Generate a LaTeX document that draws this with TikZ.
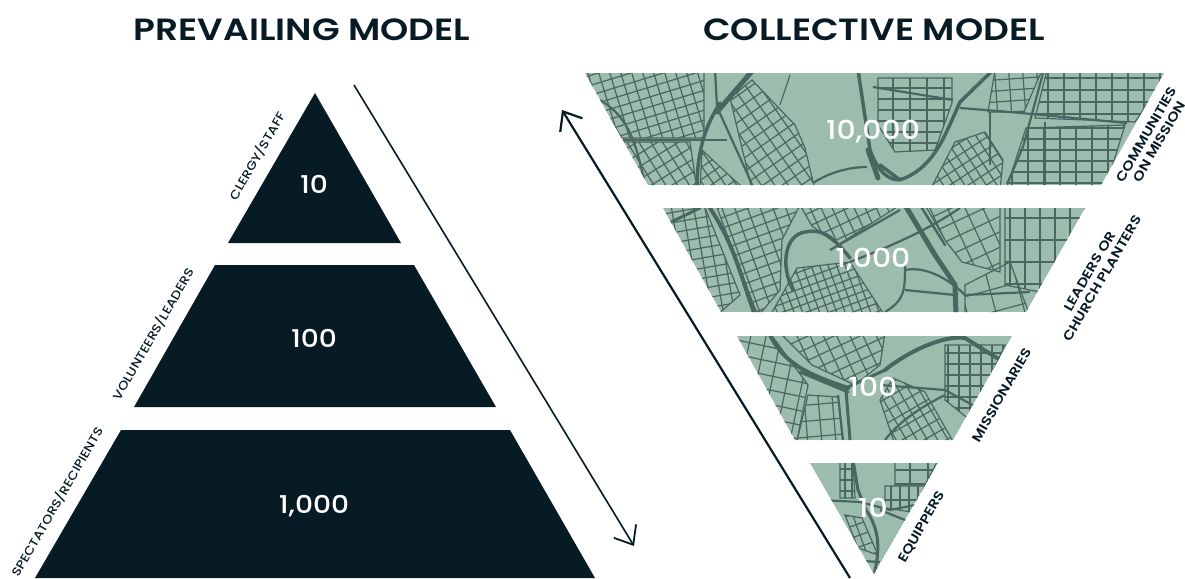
\documentclass[tikz,border=0pt]{standalone}
\usepackage{fontspec}
\setmainfont{Poppins}
\newfontfamily\wmed[FakeStretch=1.15]{Poppins Medium}
\newfontfamily\wbold[FakeStretch=1.17]{Poppins SemiBold}
\usetikzlibrary{arrows.meta}
\definecolor{ink}{HTML}{071B25}
\definecolor{mapg}{HTML}{9CBCAD}
\definecolor{road}{HTML}{4A6661}
% GP: neighbourhood polygon, grid origin, angle, spacing 1, spacing 2
\newcommand{\GP}[5]{%
  \begin{scope}
    \clip #1 -- cycle;
    \begin{scope}[shift={(#2)},rotate=#3]
      \foreach \k in {-14,...,14}{%
        \draw[street] ({\k*#4},-220) -- ({\k*#4},220);
        \draw[street] (-220,{\k*#5}) -- (220,{\k*#5});
      }
    \end{scope}
  \end{scope}
  \draw[street] #1 -- cycle;
}
\tikzset{
  street/.style={draw=road,line width=1.2pt},
  artery/.style={draw=road,line width=2.2pt},
  highway/.style={draw=road,line width=5pt,line cap=round},
  tierlabel/.style={text=ink,font=\wmed\fontsize{12}{13}\selectfont,rotate=60,align=center,inner sep=0pt},
  maplabel/.style={text=ink,font=\wbold\fontsize{13}{14.5}\selectfont,rotate=60,align=center,inner sep=0pt},
  title/.style={text=ink,font=\wbold\fontsize{30.7}{33}\selectfont,inner sep=0pt},
  count/.style={text=white,font=\wmed\fontsize{24.5}{28}\selectfont,inner sep=0pt},
  mapcount/.style={text=white,font=\wmed\fontsize{26}{32}\selectfont,inner sep=0pt},
  arrowright/.style={draw=ink,line width=1.6pt,-{Straight Barb[length=16pt,width=26pt,line width=1.8pt]}},
  arrowleft/.style={draw=ink,line width=2.2pt,-{Straight Barb[length=16pt,width=26pt,line width=2.2pt]}},
}
\begin{document}
\begin{tikzpicture}[x=1pt,y=-1pt]
\useasboundingbox (0,0) rectangle (1185,578);
% left pyramid
\fill[ink] (315,93) -- (401,243) -- (228,243) -- cycle;
\fill[ink] (215,265) -- (414,265) -- (496,407) -- (134,407) -- cycle;
\fill[ink] (121,430) -- (510,430) -- (595,578) -- (35,578) -- cycle;
\node[title] (t1) at (302,30) {PREVAILING MODEL};
\node[title] (t2) at (874,30) {COLLECTIVE MODEL};
\node[count] (a1) at (314,184) {10};
\node[count] (a2) at (314,338) {100};
\node[count] (a3) at (314,506) {1,000};
\node[tierlabel] (l1) at (257,156) {CLERGY/STAFF};
\node[tierlabel] (l2) at (153,334) {VOLUNTEERS/LEADERS};
\node[tierlabel] (l3) at (57,502) {SPECTATORS/RECIPIENTS};
\coordinate (ra) at (354,85);
\coordinate (rb) at (634,546);
\draw[arrowright] (ra) -- (rb);
% tier 1
\begin{scope}
\clip (585,73) -- (1164,73) -- (1101,185) -- (648,185) -- cycle;
\fill[mapg] (585,73) rectangle (1164,185);
\GP{(580,70) -- (704,70) -- (704,138) -- (622,138)}{640,100}{17}{10.5}{9.5}
\GP{(622,142) -- (690,142) -- (697,190) -- (640,190)}{650,160}{32}{10}{11}
\GP{(702,150) -- (745,190) -- (700,190)}{715,170}{35}{9}{10}
\GP{(730,98) -- (752,80) -- (795,125) -- (805,148) -- (815,190) -- (752,190)}{770,140}{35}{11}{11}
\GP{(878,78) -- (952,78) -- (952,103) -- (935,150) -- (895,152) -- (878,125)}{910,110}{0}{17}{11}
\GP{(955,142) -- (985,132) -- (1003,160) -- (1000,190) -- (930,190)}{970,160}{33}{9}{10}
\GP{(995,70) -- (1042,70) -- (1024,112) -- (988,112)}{1010,90}{4}{14}{11}
\GP{(1047,70) -- (1170,70) -- (1135,122) -- (1035,118)}{1080,90}{0}{16}{12}
\GP{(1026,128) -- (1125,125) -- (1105,190) -- (1006,190)}{1060,150}{0}{16}{11}
\draw[street] (780,105) -- (790,75);
\draw[artery] (623,140) -- (703,140) -- (727,140);
\draw[artery] (600,100) .. controls (625,115) and (635,135) .. (645,185);
\draw[artery] (813,183) .. controls (830,172) and (850,167) .. (867,167);
\draw[artery] (873,87) -- (953,100);
\draw[artery] (960,108) -- (1010,112) -- (1127,123);
\draw[artery] (1043,73) -- (1023,147) -- (1007,184);
\draw[artery] (1045,122) -- (1045,185);
\draw[artery] (990,112) -- (990,165);
\draw[highway,line width=3.5pt] (697,187) .. controls (697,150) and (706,125) .. (720,103);
\draw[highway] (717,112) -- (753,70);
\draw[artery] (715,70) -- (717,107) -- (747,173) -- (753,187);
\draw[highway,line width=3.5pt] (993,70) -- (960,102) .. controls (945,135) and (935,165) .. (905,178) .. controls (895,183) and (880,178) .. (870,150) -- (858,70);
\draw[highway] (868,150) -- (878,178);
\draw[highway,line width=3.5pt] (880,165) -- (900,180);
\node[mapcount] (b1) at (873,132) {10,000};
\end{scope}
% tier 2
\begin{scope}
\clip (663,208) -- (1085,208) -- (1026,312) -- (721,312) -- cycle;
\fill[mapg] (663,208) rectangle (1085,312);
\GP{(655,205) -- (704,205) -- (740,295) -- (716,316)}{690,250}{10}{11}{10}
\GP{(716,205) -- (800,205) -- (782,240) -- (780,290) -- (758,316) -- (748,290)}{750,250}{20}{12}{10}
\GP{(797,268) -- (850,262) -- (885,316) -- (770,316)}{820,290}{20}{8}{8}
\GP{(800,205) -- (900,205) -- (838,245) -- (812,226)}{840,225}{25}{10}{12}
\GP{(925,205) -- (1000,205) -- (1000,272) -- (962,262) -- (945,240)}{960,235}{25}{16}{14}
\GP{(1005,205) -- (1090,205) -- (1040,292) -- (1005,285)}{1040,240}{0}{15}{22}
\GP{(965,285) -- (1010,262) -- (1030,316) -- (965,316)}{990,290}{15}{28}{22}
\draw[artery] (905,265) .. controls (905,290) and (905,300) .. (885,312);
\draw[artery] (905,270) .. controls (930,265) and (955,285) .. (965,295) -- (1030,292);
\draw[artery] (905,290) -- (955,295);
\draw[artery] (960,208) .. controls (920,235) and (880,250) .. (850,262);
\draw[artery] (900,210) -- (830,250);
\draw[highway,line width=4pt] (708,205) .. controls (735,245) and (740,275) .. (755,315);
\draw[highway,line width=3pt] (665,225) -- (700,208);
\draw[highway,line width=3.5pt] (793,290) .. controls (780,265) and (785,235) .. (805,232) .. controls (825,228) and (835,240) .. (850,258);
\draw[highway] (905,205) -- (935,255) -- (955,285) -- (956,315);
\draw[highway,line width=2.5pt] (920,205) -- (945,245);
\node[mapcount] (b2) at (873,260) {1,000};
\end{scope}
% tier 3
\begin{scope}
\clip (737,336) -- (1012,336) -- (953,440) -- (795,440) -- cycle;
\fill[mapg] (737,336) rectangle (1012,440);
\GP{(730,333) -- (770,333) -- (808,385) -- (796,445) -- (760,395)}{770,390}{-12}{15}{14}
\GP{(808,395) -- (838,397) -- (843,445) -- (796,445)}{820,420}{5}{14}{16}
\GP{(780,333) -- (885,333) -- (880,365) -- (855,385) -- (812,365)}{830,350}{25}{12}{11}
\GP{(893,378) -- (925,392) -- (955,445) -- (895,445) -- (880,400)}{910,410}{30}{9}{11}
\GP{(945,345) -- (1005,345) -- (970,420) -- (945,400)}{970,375}{0}{11}{11}
\draw[artery] (880,385) -- (945,390) -- (1000,420);
\draw[artery] (885,440) .. controls (900,420) and (925,405) .. (945,395);
\draw[highway,line width=4pt] (770,335) .. controls (785,365) and (810,375) .. (848,388);
\draw[highway,line width=3pt] (800,372) -- (848,392);
\draw[highway,line width=4pt] (885,370) .. controls (910,350) and (945,335) .. (965,338) -- (1000,360);
\draw[highway,line width=3pt] (846,388) -- (885,370);
\draw[highway,line width=3pt] (846,390) -- (850,440);
\draw[artery] (838,395) -- (843,440);
\node[mapcount] (b3) at (873,387) {100};
\end{scope}
% tier 4
\begin{scope}
\clip (810,463) -- (938,463) -- (874,574) -- cycle;
\fill[mapg] (810,463) -- (938,463) -- (874,574) -- cycle;
\GP{(840,460) -- (853,460) -- (855,498) -- (840,498)}{845,480}{0}{7}{11}
\GP{(895,460) -- (938,460) -- (925,485) -- (895,485)}{910,470}{0}{18}{14}
\GP{(885,486) -- (925,486) -- (912,512) -- (885,508)}{900,500}{0}{9}{40}
\GP{(845,515) -- (862,518) -- (878,555) -- (858,548)}{860,535}{20}{11}{11}
\draw[artery] (820,500) -- (860,502) -- (890,510) -- (915,505);
\draw[artery] (880,510) -- (905,520);
\draw[artery] (845,560) -- (880,562);
\draw[highway,line width=3pt] (853,460) -- (858,490) -- (866,510);
\draw[highway,line width=3pt] (866,510) .. controls (880,530) and (880,550) .. (874,575);
\node[mapcount] (b4) at (873,508) {10};
\end{scope}
\coordinate (la) at (850,578);
\coordinate (lb) at (562,110);
\draw[arrowleft] (la) -- (lb);
\node[maplabel] (m1) at (1153,138) {COMMUNITIES\\ON MISSION};
\node[maplabel] (m2) at (1096,275) {LEADERS OR\\CHURCH PLANTERS};
\node[maplabel] (m3) at (1002,395) {MISSIONARIES};
\node[maplabel] (m4) at (922,527) {EQUIPPERS};
\end{tikzpicture}
\end{document}
